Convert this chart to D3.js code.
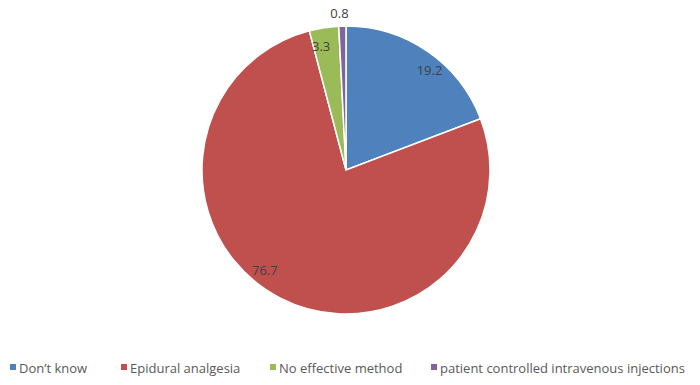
<!DOCTYPE html>
<html>
<head>
<meta charset="utf-8">
<script src="https://cdn.jsdelivr.net/npm/d3@7"></script>
<style>
  body { margin: 0; background: #fff; }
  svg { font-family: "Open Sans", "Noto Sans", sans-serif; }
</style>
</head>
<body>
<svg id="pie_svg" width="700" height="385"></svg>
<script>
// chart data
let categories = ["Don\u2019t know", "Epidural analgesia", "No effective method", "patient controlled intravenous injections"];
let values = [19.2, 76.7, 3.3, 0.8];
let colors = ["#4f81bd", "#c0504d", "#9bbb59", "#8064a2"];

// where excel put the data labels: radius, angle (deg clockwise from top)
let labelRadius = [130, 129, 126, 157];
let labelAngle = [40, 219, 348.6, 357.6];

let cx = 346, cy = 170, r = 144;

let svg = d3.select("#pie_svg");
let g = svg.append("g").attr("transform", `translate(${cx}, ${cy})`);

let pie = d3.pie().sort(null).value(d => d);
let arc = d3.arc().innerRadius(0).outerRadius(r);
let arcs = pie(values);

g.selectAll("path.slice")
  .data(arcs)
  .enter().append("path")
  .attr("class", "slice")
  .attr("d", arc)
  .attr("fill", (d, i) => colors[i])
  .attr("stroke", "#fff")
  .attr("stroke-width", 1.5);

// data labels
g.selectAll("text.lbl")
  .data(arcs)
  .enter().append("text")
  .attr("class", "lbl")
  .attr("x", (d, i) => labelRadius[i] * Math.sin(labelAngle[i] * Math.PI / 180))
  .attr("y", (d, i) => -labelRadius[i] * Math.cos(labelAngle[i] * Math.PI / 180))
  .attr("dy", "0.35em")
  .attr("text-anchor", "middle")
  .attr("font-size", 13)
  .attr("fill", "#404040")
  .text((d, i) => values[i]);

// legend
let legendX = [10, 121, 270, 431];
let legend = svg.append("g").attr("transform", "translate(0, 368)");
let items = legend.selectAll("g.item")
  .data(categories)
  .enter().append("g")
  .attr("class", "item")
  .attr("transform", (d, i) => `translate(${legendX[i]}, 0)`);
items.append("rect")
  .attr("x", 0).attr("y", -4)
  .attr("width", 6).attr("height", 6)
  .attr("fill", (d, i) => colors[i]);
items.append("text")
  .attr("x", 9)
  .attr("dy", "0.35em")
  .attr("font-size", 13)
  .attr("fill", "#595959")
  .text(d => d);
</script>
</body>
</html>
